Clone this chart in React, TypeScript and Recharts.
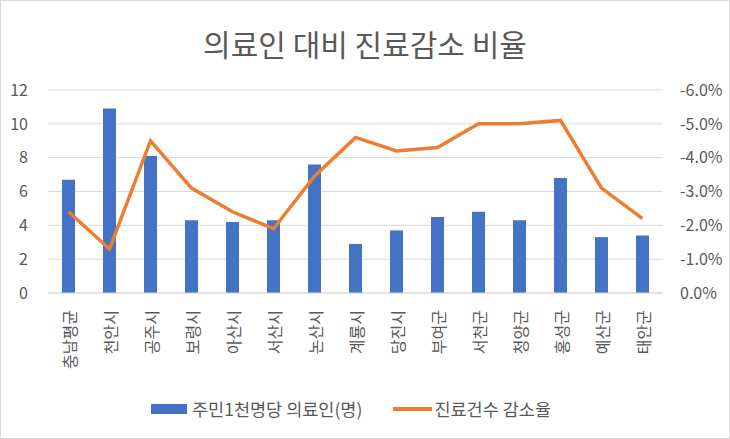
import {
  Bar,
  CartesianGrid,
  ComposedChart,
  Legend,
  Line,
  XAxis,
  YAxis,
} from "recharts";

const regions = [
  "충남평균", "천안시", "공주시", "보령시", "아산시", "서산시", "논산시", "계룡시",
  "당진시", "부여군", "서천군", "청양군", "홍성군", "예산군", "태안군",
];
const medicsPer1000 = [6.7, 10.9, 8.1, 4.3, 4.2, 4.3, 7.6, 2.9, 3.7, 4.5, 4.8, 4.3, 6.8, 3.3, 3.4];
const declineRate = [-2.4, -1.3, -4.5, -3.1, -2.4, -1.9, -3.45, -4.6, -4.2, -4.3, -5.0, -5.0, -5.1, -3.1, -2.2];
const leftTicks = [0, 2, 4, 6, 8, 10, 12];
const rightTicks = [0, -1, -2, -3, -4, -5, -6];

const data = regions.map((name, i) => ({
  name,
  medics: medicsPer1000[i],
  decline: declineRate[i],
}));

const FONT = '"Noto Sans CJK KR", "Noto Sans", sans-serif';
const GREY = "#595959";
const BLUE = "#4472C4";
const ORANGE = "#ED7D31";

function RegionTick({ x, y, payload }: any) {
  return (
    <text
      transform={`translate(${x},${y + 9}) rotate(-90)`}
      textAnchor="end"
      dominantBaseline="central"
      fontSize={16}
      fill={GREY}
      fontFamily={FONT}
    >
      {payload.value}
    </text>
  );
}

function ChartLegend() {
  return (
    <div
      style={{
        display: "flex",
        justifyContent: "center",
        alignItems: "center",
        paddingRight: 28,
        fontFamily: FONT,
        fontSize: 17.5,
        color: GREY,
      }}
    >
      <span style={{ width: 36, height: 10, background: BLUE, marginRight: 5 }} />
      <span style={{ marginRight: 31 }}>주민1천명당 의료인(명)</span>
      <span style={{ width: 39, height: 4, background: ORANGE, marginRight: 2 }} />
      <span>진료건수 감소율</span>
    </div>
  );
}

export default function App() {
  return (
    <div
      style={{
        position: "absolute",
        left: 0,
        top: 0,
        width: 730,
        height: 439,
        boxSizing: "border-box",
        border: "1px solid #d9d9d9",
        background: "#fff",
      }}
    >
      <div
        style={{
          position: "absolute",
          top: 20,
          width: "100%",
          textAlign: "center",
          fontFamily: FONT,
          fontSize: 30,
          color: GREY,
        }}
      >
        의료인 대비 진료감소 비율
      </div>
      <ComposedChart
        width={728}
        height={437}
        data={data}
        margin={{ top: 89, right: 0, left: 0, bottom: 35 }}
        barCategoryGap={0}
      >
        <CartesianGrid yAxisId="left" vertical={false} stroke="#d9d9d9" />
        <XAxis
          dataKey="name"
          interval={0}
          tick={<RegionTick />}
          tickLine={false}
          axisLine={{ stroke: "#d9d9d9" }}
          height={85}
        />
        <YAxis
          yAxisId="left"
          domain={[0, 12]}
          ticks={leftTicks}
          width={47}
          axisLine={false}
          tickLine={false}
          tickMargin={14}
          tick={{ fill: GREY, fontSize: 16, fontFamily: FONT }}
        />
        <YAxis
          yAxisId="right"
          orientation="right"
          domain={[-6, 0]}
          reversed
          ticks={rightTicks}
          width={66}
          axisLine={false}
          tickLine={false}
          tickMargin={11}
          tickFormatter={(v: number) => `${v.toFixed(1)}%`}
          tick={{ fill: GREY, fontSize: 16, fontFamily: FONT }}
        />
        <Bar
          yAxisId="left"
          dataKey="medics"
          name="주민1천명당 의료인(명)"
          fill={BLUE}
          barSize={13}
          isAnimationActive={false}
        />
        <Line
          yAxisId="right"
          dataKey="decline"
          name="진료건수 감소율"
          stroke={ORANGE}
          strokeWidth={3.5}
          dot={false}
          type="linear"
          isAnimationActive={false}
        />
        <Legend
          content={<ChartLegend />}
          wrapperStyle={{ position: "absolute", top: 395, left: 0, width: 728 }}
        />
      </ComposedChart>
    </div>
  );
}
